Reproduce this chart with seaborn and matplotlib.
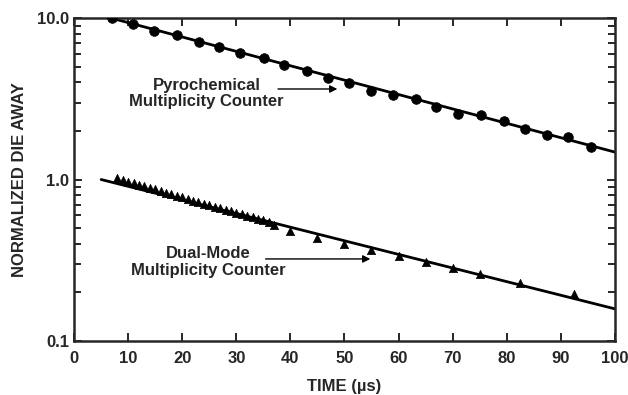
import matplotlib
matplotlib.use("Agg")
import matplotlib.pyplot as plt
import pandas as pd
import seaborn as sns

# Pyrochemical counter (circles)
pyro_t = [7.0, 10.9, 14.8, 19.0, 23.1, 26.8, 30.6, 35.1, 38.9, 43.0, 47.0, 50.9,
          54.9, 59.0, 63.2, 67.0, 71.0, 75.2, 79.5, 83.4, 87.4, 91.4, 95.6]
pyro_v = [10.0, 9.14, 8.34, 7.85, 7.13, 6.61, 6.10, 5.63, 5.09, 4.70, 4.27, 3.98,
          3.53, 3.34, 3.14, 2.82, 2.53, 2.51, 2.30, 2.06, 1.89, 1.83, 1.60]
pyro_fit_t = [5, 100]
pyro_fit_v = [10.4, 1.48]

# Dual-mode counter (triangles)
dual_t = [8, 9, 10, 11, 12, 13, 14, 15, 16, 17, 18, 19, 20, 21, 22, 23, 24, 25,
          26, 27, 28, 29, 30, 31, 32, 33, 34, 35, 36, 37,
          40, 45, 50, 55, 60, 65, 70, 75, 82.5, 92.5]
dual_v = [1.02, 0.99, 0.97, 0.95, 0.93, 0.91, 0.89, 0.87, 0.85, 0.83, 0.81, 0.79,
          0.775, 0.76, 0.74, 0.725, 0.71, 0.695, 0.68, 0.665, 0.65, 0.635, 0.62,
          0.61, 0.595, 0.585, 0.57, 0.56, 0.545, 0.52,
          0.48, 0.432, 0.397, 0.366, 0.337, 0.31, 0.282, 0.26, 0.23, 0.195]
dual_fit_t = [5, 100]
dual_fit_v = [1.0, 0.158]

x_ticks = [0, 10, 20, 30, 40, 50, 60, 70, 80, 90, 100]
y_ticks = [0.1, 1.0, 10.0]
y_tick_labels = ["0.1", "1.0", "10.0"]

sns.set_style("ticks")
plt.rcParams["font.family"] = ["Liberation Sans", "DejaVu Sans"]
plt.rcParams["font.weight"] = "bold"

pyro = pd.DataFrame({"t": pyro_t, "v": pyro_v})
dual = pd.DataFrame({"t": dual_t, "v": dual_v})

fig = plt.figure(figsize=(6.28, 3.95), dpi=100)
ax = fig.add_axes([0.118, 0.137, 0.861, 0.817])

# Fit lines
sns.lineplot(x=pyro_fit_t, y=pyro_fit_v, ax=ax, color="black", linewidth=2.0)
sns.lineplot(x=dual_fit_t, y=dual_fit_v, ax=ax, color="black", linewidth=2.0)

# Data points
sns.scatterplot(data=pyro, x="t", y="v", ax=ax, marker="o", s=48,
                color="black", edgecolor="black", zorder=3)
sns.scatterplot(data=dual, x="t", y="v", ax=ax, marker="^", s=36,
                color="black", edgecolor="black", zorder=3)

ax.set_yscale("log")
ax.set_xlim(0, 100)
ax.set_ylim(0.1, 10.0)
ax.set_xticks(x_ticks)
ax.set_xticklabels([str(v) for v in x_ticks])
ax.set_yticks(y_ticks)
ax.set_yticklabels(y_tick_labels)

ax.tick_params(axis="both", which="both", direction="in", top=True, right=True,
               labelsize=12, width=1.4)
ax.tick_params(axis="both", which="major", length=6)
ax.tick_params(axis="y", which="minor", length=5)
ax.tick_params(axis="x", which="major", pad=7)
for lab in ax.get_xticklabels() + ax.get_yticklabels():
    lab.set_fontweight("bold")
for sp in ax.spines.values():
    sp.set_linewidth(1.8)

ax.set_xlabel("TIME (\u00b5s)", fontsize=12, fontweight="bold", labelpad=10)
ax.set_ylabel("NORMALIZED DIE AWAY", fontsize=12, fontweight="bold", labelpad=7)

# Annotations
ax.text(24.5, 3.43, "Pyrochemical\nMultiplicity Counter", ha="center", va="center",
        fontsize=12, fontweight="bold", linespacing=1.1)
ax.annotate("", xy=(49.2, 3.64), xytext=(37.2, 3.64),
            arrowprops=dict(arrowstyle="-|>", color="black", lw=1.0,
                            mutation_scale=11))
ax.text(24.8, 0.308, "Dual-Mode\nMultiplicity Counter", ha="center", va="center",
        fontsize=12, fontweight="bold", linespacing=1.1)
ax.annotate("", xy=(55.3, 0.322), xytext=(34.9, 0.322),
            arrowprops=dict(arrowstyle="-|>", color="black", lw=1.0,
                            mutation_scale=11))

fig.savefig("out.png", dpi=100)
